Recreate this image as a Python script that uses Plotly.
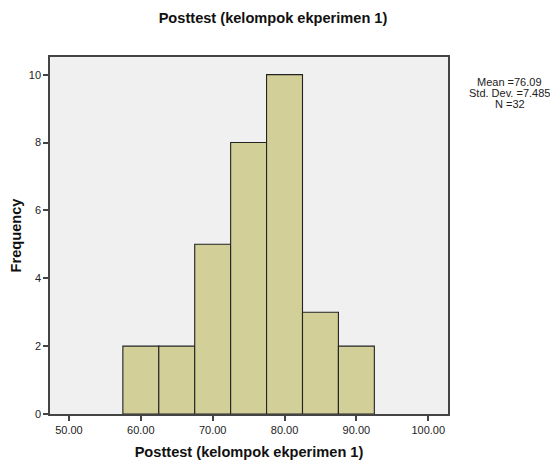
import plotly.graph_objects as go

bin_centers = [60, 65, 70, 75, 80, 85, 90]
frequencies = [2, 2, 5, 8, 10, 3, 2]
bin_width = 5
x_ticks = [50, 60, 70, 80, 90, 100]
y_ticks = [0, 2, 4, 6, 8, 10]
stats_lines = ["Mean =76.09", "Std. Dev. =7.485", "N =32"]

FONT = "Arial, Liberation Sans, sans-serif"

# page body has an 8px margin, so the figure is laid out 8px smaller
W, H = 550, 456
L, T, R, B = 42, 49, 110, 50
PW, PH = W - L - R, H - T - B

fig = go.Figure()
fig.add_trace(go.Bar(
    x=bin_centers, y=frequencies, width=[bin_width] * len(bin_centers),
    marker=dict(color="#D3CF98", line=dict(color="#222222", width=1.1)),
    hoverinfo="x+y",
))

fig.update_layout(
    width=W, height=H,
    margin=dict(l=L, r=R, t=T, b=B, autoexpand=False),
    paper_bgcolor="white", plot_bgcolor="#F0F0F0",
    showlegend=False,
    title=dict(text="<b>Posttest (kelompok ekperimen 1)</b>", x=(273 - 8) / W, xanchor="center",
               y=1 - 10 / H, yanchor="middle",
               font=dict(family=FONT, size=14.6, color="#111111")),
    font=dict(family=FONT, size=11, color="#222222"),
)

fig.update_xaxes(
    range=[47.36, 102.75], tickvals=x_ticks, tickformat=".2f",
    ticks="outside", ticklen=5, tickwidth=1.5, tickcolor="#444444",
    showline=True, linecolor="#444444", linewidth=1.5, mirror=True,
    showgrid=False, zeroline=False, automargin=False,
    tickfont=dict(family=FONT, size=11, color="#222222"),
    title=dict(text="<b>Posttest (kelompok ekperimen 1)</b>", standoff=12,
               font=dict(family=FONT, size=14.6, color="#111111")),
)
fig.update_yaxes(
    range=[0, 10.52], tickvals=y_ticks,
    ticks="outside", ticklen=5, tickwidth=1.5, tickcolor="#444444",
    showline=True, linecolor="#444444", linewidth=1.5, mirror=True,
    showgrid=False, zeroline=False, automargin=False,
    tickfont=dict(family=FONT, size=11, color="#222222"),
    title=dict(text="<b>Frequency</b>", standoff=6,
               font=dict(family=FONT, size=14.6, color="#111111")),
)

for i, line in enumerate(stats_lines):
    y_px = 74 + 11 * i  # centre of each line, page px from figure top
    fig.add_annotation(
        text=line, xref="paper", yref="paper",
        x=(502 - L) / PW, y=1 - (y_px - T) / PH, xanchor="center", yanchor="middle",
        showarrow=False, align="center",
        font=dict(family=FONT, size=11, color="#222222"),
    )

fig.write_html("out.html")
